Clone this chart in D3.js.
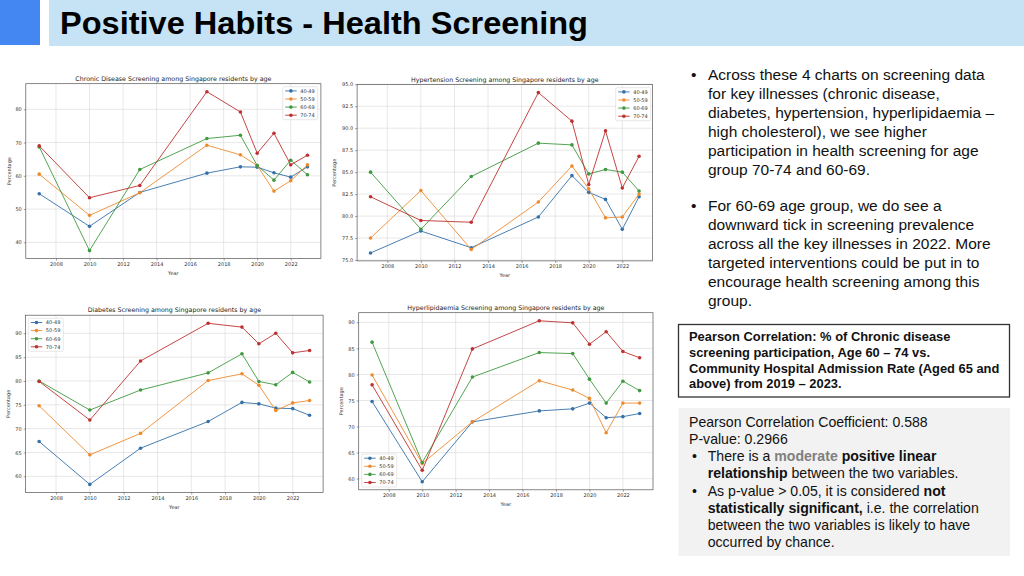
<!DOCTYPE html>
<html>
<head>
<meta charset="utf-8">
<script src="https://cdn.jsdelivr.net/npm/d3@7/dist/d3.min.js"></script>
<style>
  body { margin: 0; background: #fff; }
  svg { display: block; }
</style>
</head>
<body>
<svg id="slide" width="1024" height="576"></svg>
<script>
// survey years shared by all four charts
const years = [2007, 2010, 2013, 2017, 2019, 2020, 2021, 2022, 2023];
const ageGroups = ['40-49', '50-59', '60-69', '70-74'];
const xTicks = [2008, 2010, 2012, 2014, 2016, 2018, 2020, 2022];

// one row per age group
const chronicValues = [
  [54.6, 44.8, 55.0, 60.8, 62.7, 62.6, 60.9, 59.6, 62.7],
  [60.5, 48.1, 54.9, 69.2, 66.3, 63.1, 55.4, 58.5, 63.3],
  [68.7, 37.5, 61.9, 71.2, 72.2, 63.1, 58.7, 64.7, 60.3],
  [69.0, 53.4, 57.1, 85.3, 79.2, 66.8, 72.8, 63.3, 66.2]
];
const hypertensionValues = [
  [75.8, 78.3, 76.4, 79.9, 84.6, 82.7, 81.9, 78.5, 82.2],
  [77.5, 82.9, 76.2, 81.6, 85.7, 83.1, 79.8, 79.9, 82.5],
  [85.0, 78.5, 84.5, 88.3, 88.1, 84.8, 85.3, 85.0, 82.85],
  [82.2, 79.5, 79.3, 94.05, 90.8, 83.6, 89.7, 83.2, 86.8]
];
const diabetesValues = [
  [67.3, 58.3, 65.9, 71.5, 75.5, 75.2, 74.3, 74.2, 72.8],
  [74.8, 64.5, 69.0, 80.1, 81.5, 79.1, 73.8, 75.4, 75.9],
  [80.0, 73.9, 78.1, 81.7, 85.7, 79.9, 79.2, 81.8, 79.8],
  [79.9, 71.8, 84.2, 92.1, 91.3, 87.8, 90.0, 85.9, 86.4]
];
const lipidValues = [
  [74.8, 59.4, 70.9, 73.0, 73.4, 74.5, 71.7, 71.9, 72.5],
  [79.9, 62.9, 70.9, 78.8, 77.0, 75.4, 68.8, 74.5, 74.5],
  [86.2, 63.1, 79.5, 84.2, 84.0, 79.1, 74.5, 78.7, 76.9],
  [78.0, 61.6, 84.9, 90.3, 89.9, 85.8, 88.2, 84.4, 83.2]
];

const seriesColors = ['#3471a8', '#ee8a2e', '#3f9a3f', '#bf3131'];
const chartFont = 'DejaVu Sans, sans-serif';
const slideFont = 'Liberation Sans, Arial, sans-serif';

const svg = d3.select('#slide');

// header band
svg.append('rect').attr('x', 0).attr('y', 0).attr('width', 40).attr('height', 45).attr('fill', '#4487f2');
svg.append('rect').attr('x', 49).attr('y', 0).attr('width', 975).attr('height', 46).attr('fill', '#c6e3f5');
svg.append('text')
  .attr('x', 60).attr('y', 34)
  .attr('font-family', slideFont).attr('font-weight', 'bold').attr('font-size', 32)
  .attr('textLength', 528).attr('lengthAdjust', 'spacingAndGlyphs')
  .attr('fill', '#000')
  .text('Positive Habits - Health Screening');

function drawChart(opt) {
  const x = d3.scaleLinear().domain([2006.2, 2023.8]).range([opt.left, opt.right]);
  const y = d3.scaleLinear().domain(opt.yDomain).range([opt.bottom, opt.top]);
  const g = svg.append('g');
  const h = opt.bottom - opt.top;
  const w = opt.right - opt.left;

  // grid
  g.append('g').selectAll('line').data(xTicks).join('line')
    .attr('x1', d => x(d)).attr('x2', d => x(d))
    .attr('y1', opt.top).attr('y2', opt.bottom)
    .attr('stroke', '#d6d6d6').attr('stroke-width', 0.6);
  g.append('g').selectAll('line').data(opt.yTicks).join('line')
    .attr('y1', d => y(d)).attr('y2', d => y(d))
    .attr('x1', opt.left).attr('x2', opt.right)
    .attr('stroke', '#d6d6d6').attr('stroke-width', 0.6);

  const xAxis = g.append('g')
    .attr('transform', `translate(0,${opt.bottom})`)
    .call(d3.axisBottom(x).tickValues(xTicks).tickFormat(d3.format('d')).tickSize(2).tickPadding(2));
  const yAxis = g.append('g')
    .attr('transform', `translate(${opt.left},0)`)
    .call(d3.axisLeft(y).tickValues(opt.yTicks).tickFormat(d3.format(opt.yFormat)).tickSize(2).tickPadding(2));
  [xAxis, yAxis].forEach(a => {
    a.select('.domain').remove();
    a.selectAll('line').attr('stroke', '#444').attr('stroke-width', 0.5);
    a.selectAll('text').attr('font-family', chartFont).attr('font-size', 5).attr('fill', '#333');
  });

  g.append('rect')
    .attr('x', opt.left).attr('y', opt.top).attr('width', w).attr('height', h)
    .attr('fill', 'none').attr('stroke', '#555').attr('stroke-width', 0.7);

  const line = d3.line().x((d, i) => x(years[i])).y(d => y(d));
  opt.values.forEach((vals, k) => {
    g.append('path').datum(vals)
      .attr('d', line)
      .attr('fill', 'none').attr('stroke', seriesColors[k]).attr('stroke-width', 0.9);
    g.append('g').selectAll('circle').data(vals).join('circle')
      .attr('cx', (d, i) => x(years[i])).attr('cy', d => y(d))
      .attr('r', 1.8).attr('fill', seriesColors[k]);
  });

  g.append('text')
    .attr('x', (opt.left + opt.right) / 2).attr('y', opt.top - 3)
    .attr('text-anchor', 'middle')
    .attr('font-family', chartFont).attr('font-size', 6.3).attr('fill', '#222')
    .text(opt.title);
  g.append('text')
    .attr('x', (opt.left + opt.right) / 2).attr('y', opt.bottom + 16)
    .attr('text-anchor', 'middle')
    .attr('font-family', chartFont).attr('font-size', 5).attr('fill', '#333')
    .text('Year');
  g.append('text')
    .attr('transform', `translate(${opt.left - opt.ylabelOffset},${(opt.top + opt.bottom) / 2}) rotate(-90)`)
    .attr('text-anchor', 'middle')
    .attr('font-family', chartFont).attr('font-size', 5).attr('fill', '#333')
    .text('Percentage');

  // legend
  const lg = g.append('g').attr('transform', `translate(${opt.legend[0]},${opt.legend[1]})`);
  lg.append('rect')
    .attr('width', 35).attr('height', 33).attr('rx', 1.5)
    .attr('fill', '#fff').attr('fill-opacity', 0.85)
    .attr('stroke', '#d0d0d0').attr('stroke-width', 0.5);
  const item = lg.selectAll('g').data(ageGroups).join('g')
    .attr('transform', (d, i) => `translate(0,${4.2 + i * 8.1})`);
  item.append('line')
    .attr('x1', 2.5).attr('x2', 14)
    .attr('stroke', (d, i) => seriesColors[i]).attr('stroke-width', 0.9);
  item.append('circle')
    .attr('cx', 8.2).attr('r', 1.8).attr('fill', (d, i) => seriesColors[i]);
  item.append('text')
    .attr('x', 17.5).attr('y', 1.8)
    .attr('font-family', chartFont).attr('font-size', 5).attr('fill', '#333')
    .text(d => d);
}

drawChart({
  title: 'Chronic Disease Screening among Singapore residents by age',
  values: chronicValues,
  left: 25.8, right: 320.9, top: 83.7, bottom: 258.6,
  yDomain: [35.1, 87.7], yTicks: [40, 50, 60, 70, 80], yFormat: 'd',
  ylabelOffset: 15, legend: [282.7, 86.7]
});
drawChart({
  title: 'Hypertension Screening among Singapore residents by age',
  values: hypertensionValues,
  left: 357.1, right: 652.5, top: 84.6, bottom: 260.9,
  yDomain: [74.9, 94.96], yTicks: [75, 77.5, 80, 82.5, 85, 87.5, 90, 92.5, 95], yFormat: '.1f',
  ylabelOffset: 21, legend: [615.7, 87.7]
});
drawChart({
  title: 'Diabetes Screening among Singapore residents by age',
  values: diabetesValues,
  left: 25.6, right: 323.1, top: 315.2, bottom: 492.5,
  yDomain: [56.6, 93.8], yTicks: [60, 65, 70, 75, 80, 85, 90], yFormat: 'd',
  ylabelOffset: 16, legend: [28.3, 318.3]
});
drawChart({
  title: 'Hyperlipidaemia Screening among Singapore residents by age',
  values: lipidValues,
  left: 358.7, right: 653, top: 312.7, bottom: 489.8,
  yDomain: [57.86, 91.85], yTicks: [60, 65, 70, 75, 80, 85, 90], yFormat: 'd',
  ylabelOffset: 16, legend: [361.7, 454]
});

// text blocks: each line is a list of [text, weight, colour]
function writeLines(lines, opt) {
  const t = svg.append('g');
  lines.forEach((segs, i) => {
    const y = opt.y + i * opt.lh;
    if (segs.bullet) {
      t.append('text').attr('x', opt.bulletX).attr('y', y)
        .attr('font-family', slideFont).attr('font-size', opt.fs).attr('fill', '#111')
        .text('•');
    }
    const tx = t.append('text')
      .attr('x', segs.indent ? opt.indentX : opt.x).attr('y', y)
      .attr('font-family', slideFont).attr('font-size', opt.fs)
      .attr('font-weight', opt.weight || 'normal')
      .attr('fill', '#111');
    segs.parts.forEach(p => {
      tx.append('tspan')
        .attr('font-weight', p[1] || null)
        .attr('fill', p[2] || null)
        .text(p[0]);
    });
  });
}

const L = (parts, bullet, indent) => ({ parts, bullet, indent });

writeLines([
  L([['Across these 4 charts on screening data']], true, true),
  L([['for key illnesses (chronic disease,']], false, true),
  L([['diabetes, hypertension, hyperlipidaemia \u2013']], false, true),
  L([['high cholesterol), we see higher']], false, true),
  L([['participation in health screening for age']], false, true),
  L([['group 70-74 and 60-69.']], false, true)
], { x: 708, indentX: 708, bulletX: 691, y: 79.6, lh: 19, fs: 15.5 });

writeLines([
  L([['For 60-69 age group, we do see a']], true, true),
  L([['downward tick in screening prevalence']], false, true),
  L([['across all the key illnesses in 2022. More']], false, true),
  L([['targeted interventions could be put in to']], false, true),
  L([['encourage health screening among this']], false, true),
  L([['group.']], false, true)
], { x: 708, indentX: 708, bulletX: 691, y: 211, lh: 19, fs: 15.5 });

// Pearson heading box
svg.append('rect')
  .attr('x', 678.5).attr('y', 324.5).attr('width', 331).attr('height', 72.5)
  .attr('fill', '#fff').attr('stroke', '#333').attr('stroke-width', 1.3);
writeLines([
  L([['Pearson Correlation: % of Chronic disease']]),
  L([['screening participation, Age 60 \u2013 74 vs.']]),
  L([['Community Hospital Admission Rate (Aged 65 and']]),
  L([['above) from 2019 \u2013 2023.']])
], { x: 689, y: 341.2, lh: 15.7, fs: 12.9, weight: 'bold' });

// result box
svg.append('rect')
  .attr('x', 678.5).attr('y', 408).attr('width', 331.5).attr('height', 148)
  .attr('fill', '#f2f2f2');
writeLines([
  L([['Pearson Correlation Coefficient: 0.588']]),
  L([['P-value: 0.2966']]),
  L([['There is a '], ['moderate', 'bold', '#7f7f7f'], [' '], ['positive linear', 'bold']], true, true),
  L([['relationship', 'bold'], [' between the two variables.']], false, true),
  L([['As p-value > 0.05, it is considered '], ['not', 'bold']], true, true),
  L([['statistically significant,', 'bold'], [' i.e. the correlation']], false, true),
  L([['between the two variables is likely to have']], false, true),
  L([['occurred by chance.']], false, true)
], { x: 689, indentX: 707.7, bulletX: 692, y: 426.7, lh: 17.2, fs: 14.1 });
</script>
</body>
</html>
